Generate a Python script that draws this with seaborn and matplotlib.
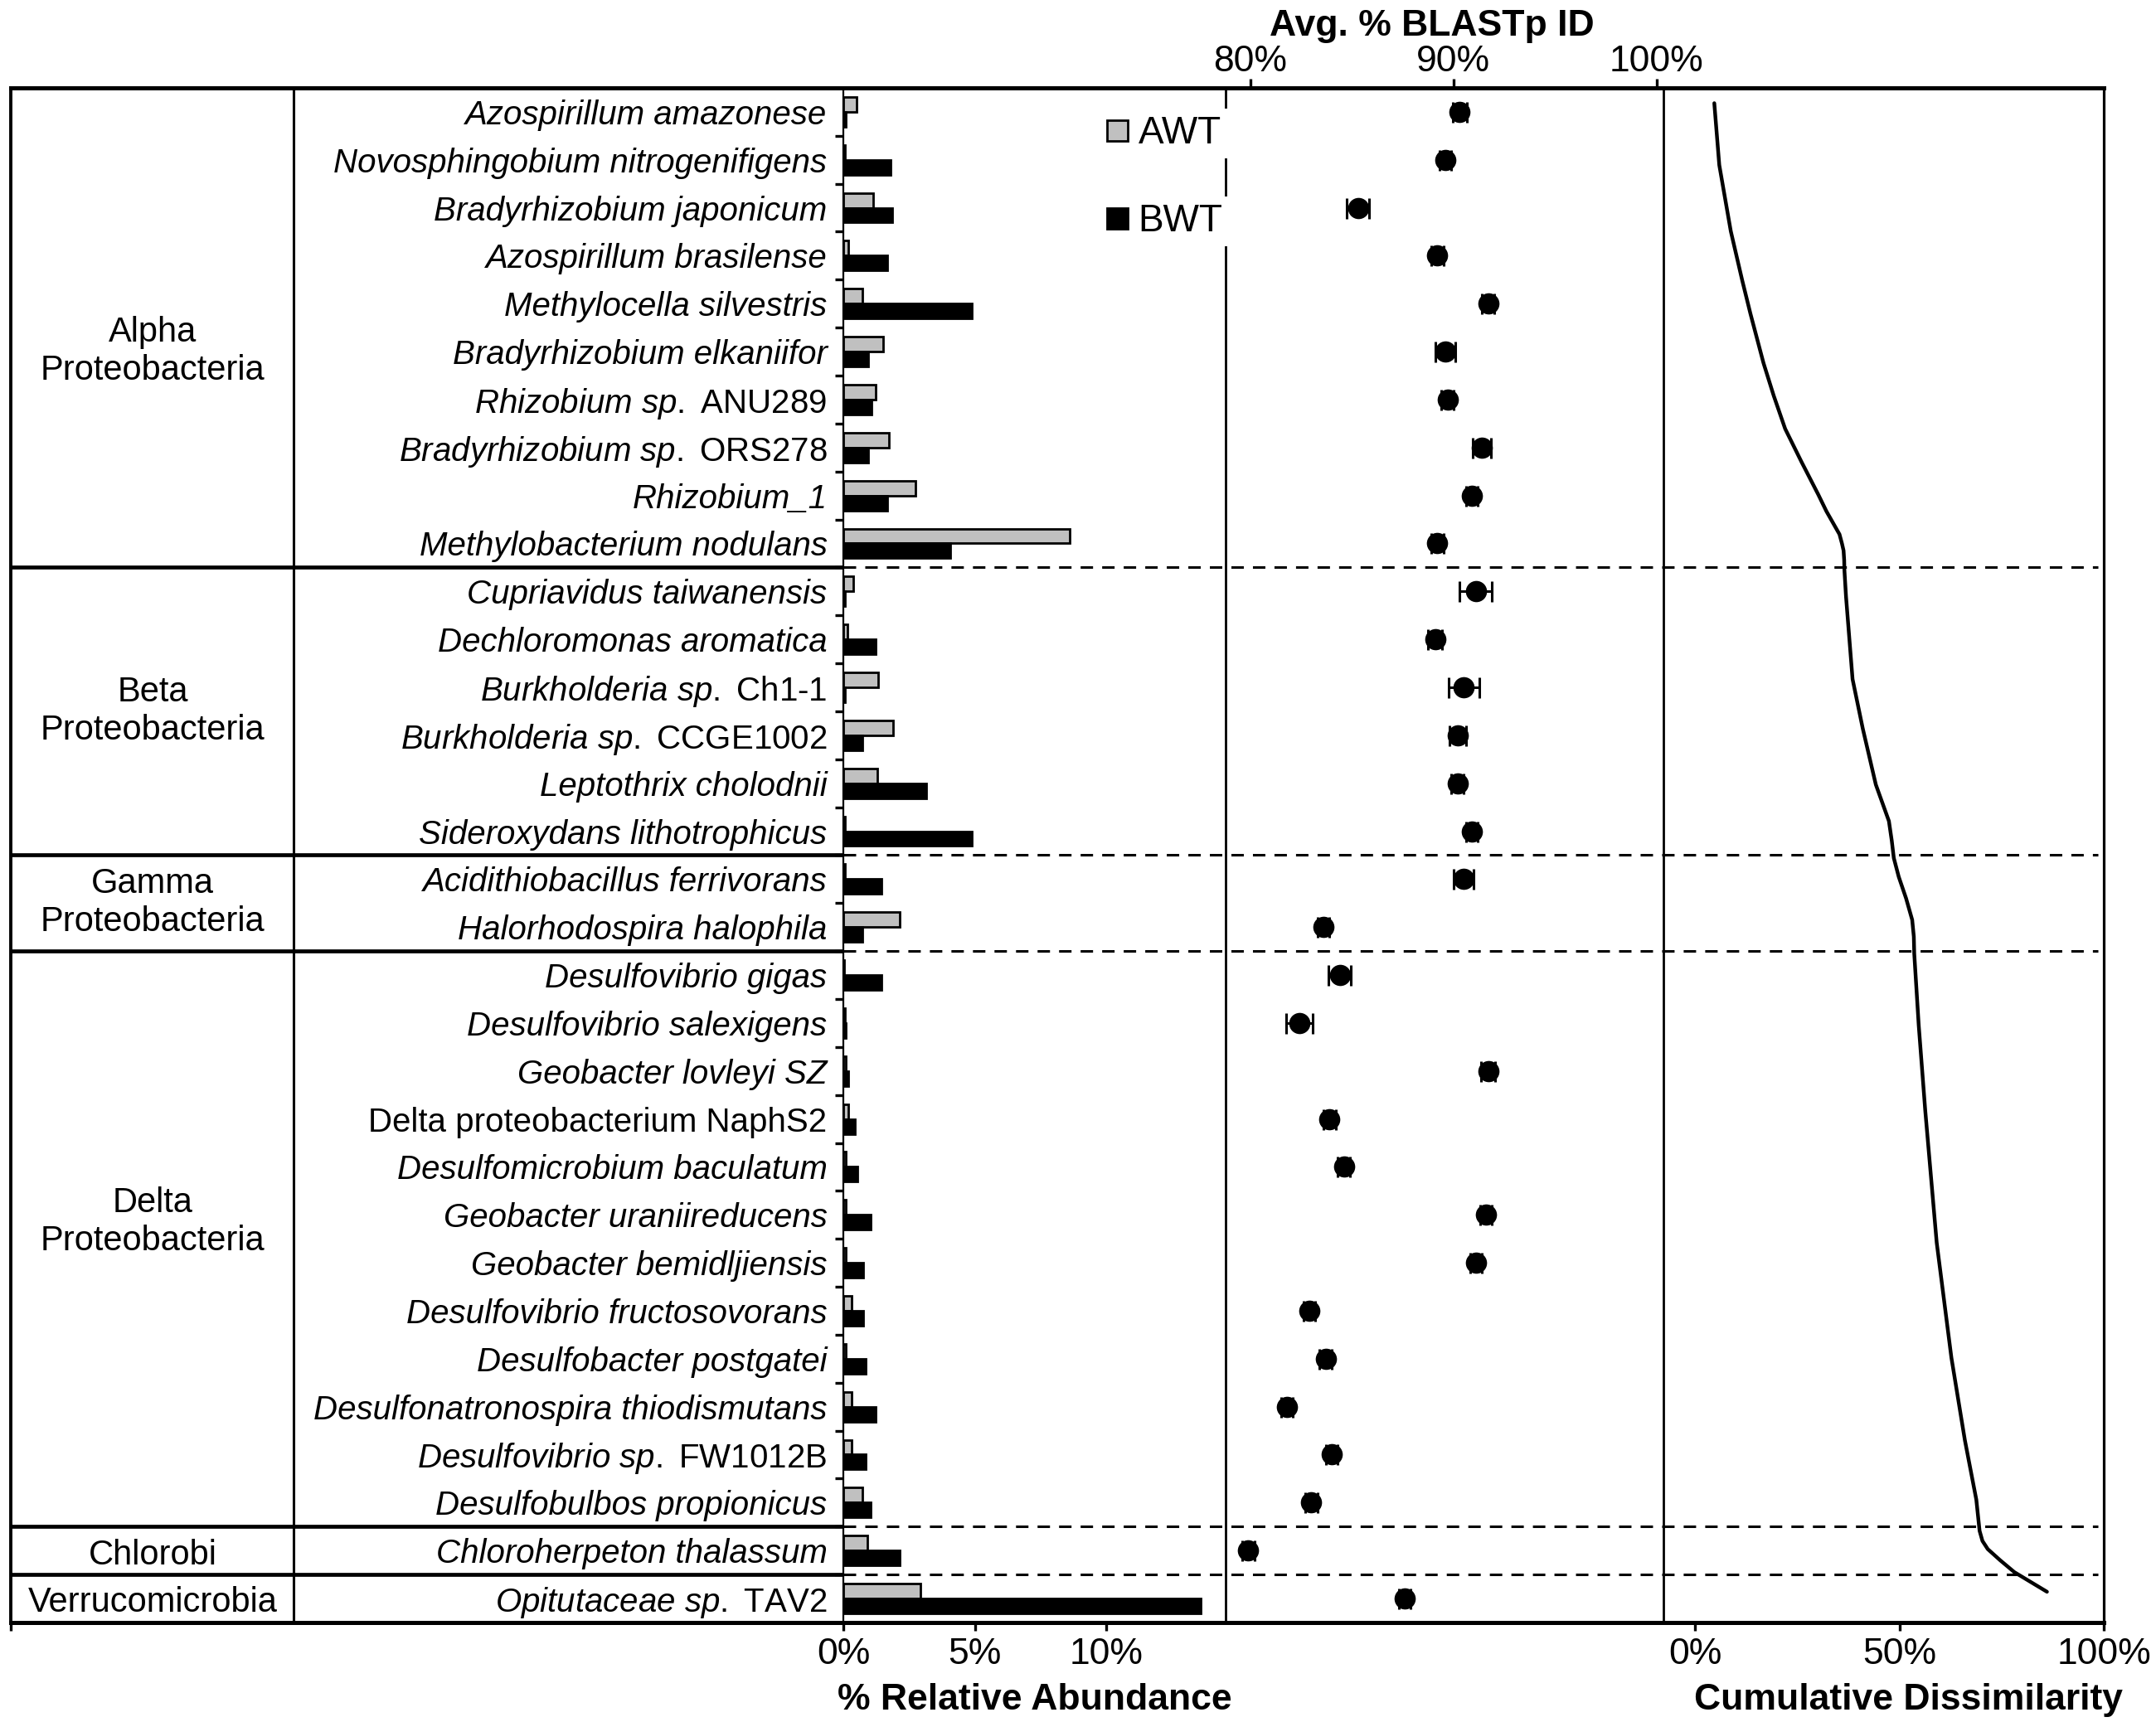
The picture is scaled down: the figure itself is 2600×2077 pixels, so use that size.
import numpy as np
import pandas as pd
import matplotlib.pyplot as plt
import seaborn as sns
from matplotlib.lines import Line2D
from matplotlib.transforms import blended_transform_factory

# species rows, top to bottom: italic taxon part and (roman) strain part
taxon = [
    'Azospirillum amazonese', 'Novosphingobium nitrogenifigens', 'Bradyrhizobium japonicum',
    'Azospirillum brasilense', 'Methylocella silvestris', 'Bradyrhizobium elkaniifor',
    'Rhizobium sp.', 'Bradyrhizobium sp.', 'Rhizobium_1', 'Methylobacterium nodulans',
    'Cupriavidus taiwanensis', 'Dechloromonas aromatica', 'Burkholderia sp.', 'Burkholderia sp.',
    'Leptothrix cholodnii', 'Sideroxydans lithotrophicus',
    'Acidithiobacillus ferrivorans', 'Halorhodospira halophila',
    'Desulfovibrio gigas', 'Desulfovibrio salexigens', 'Geobacter lovleyi SZ', '',
    'Desulfomicrobium baculatum', 'Geobacter uraniireducens', 'Geobacter bemidljiensis',
    'Desulfovibrio fructosovorans', 'Desulfobacter postgatei', 'Desulfonatronospira thiodismutans',
    'Desulfovibrio sp.', 'Desulfobulbos propionicus',
    'Chloroherpeton thalassum',
    'Opitutaceae sp.',
]
strain = [
    '', '', '', '', '', '', 'ANU289', 'ORS278', '', '',
    '', '', 'Ch1-1', 'CCGE1002', '', '',
    '', '',
    '', '', '', 'Delta proteobacterium NaphS2', '', '', '', '', '', '', 'FW1012B', '',
    '',
    'TAV2',
]

# % relative abundance
awt = [0.5, 0.05, 1.12, 0.2, 0.73, 1.52, 1.23, 1.74, 2.75, 8.6,
       0.37, 0.15, 1.33, 1.9, 1.3, 0.06,
       0.06, 2.14,
       0.03, 0.06, 0.08, 0.2, 0.1, 0.1, 0.08, 0.3, 0.08, 0.3, 0.3, 0.72,
       0.91,
       2.94]
bwt = [0.1, 1.79, 1.85, 1.67, 4.9, 0.95, 1.06, 0.95, 1.67, 4.07,
       0.06, 1.23, 0.06, 0.72, 3.17, 4.9,
       1.45, 0.72,
       1.45, 0.08, 0.2, 0.43, 0.53, 1.04, 0.76, 0.76, 0.85, 1.23, 0.85, 1.04,
       2.14,
       13.6]

# average % BLASTp identity and its error
blast_id = [90.3, 89.6, 85.3, 89.2, 91.7, 89.6, 89.7, 91.4, 90.9, 89.2,
            91.1, 89.1, 90.5, 90.2, 90.2, 90.9,
            90.5, 83.6,
            84.4, 82.4, 91.7, 83.9, 84.6, 91.6, 91.1, 82.9, 83.7, 81.8, 84.0, 83.0,
            79.9,
            87.6]
blast_err = [0.35, 0.3, 0.55, 0.3, 0.3, 0.5, 0.3, 0.45, 0.3, 0.3,
             0.8, 0.35, 0.75, 0.4, 0.3, 0.3,
             0.5, 0.3,
             0.55, 0.65, 0.35, 0.3, 0.3, 0.3, 0.3, 0.3, 0.3, 0.3, 0.3, 0.3,
             0.3,
             0.3]

groups = ['Alpha\nProteobacteria', 'Beta\nProteobacteria', 'Gamma\nProteobacteria',
          'Delta\nProteobacteria', 'Chlorobi', 'Verrucomicrobia']
group_sizes = [10, 6, 2, 12, 1, 1]
group_nudge = [0.5, 0.0, 0.0, -0.35, 0.1, 0.08]

# cumulative dissimilarity curve (row position, %)
dissim_row = [-0.18, 1.11, 2.49, 3.52, 4.21, 5.24, 5.92, 6.61, 7.30, 7.98, 8.33, 8.81, 9.0,
              9.15, 9.35, 9.55, 10.11, 11.83, 12.86, 14.03, 14.79, 15.2, 15.56, 15.95, 16.4,
              16.85, 17.2, 17.55, 19.05, 20.83, 23.58, 25.98, 27.7, 28.94, 29.59, 29.8,
              29.97, 30.2, 30.45, 30.86]
dissim_pct = [4.65, 5.87, 8.69, 11.5, 13.5, 16.7, 19.2, 22.0, 26.0, 30.1, 32.1, 35.3, 35.9,
              36.3, 36.45, 36.5, 36.9, 38.5, 41.0, 44.2, 47.4, 48.1, 48.6, 49.8, 51.6,
              53.1, 53.5, 53.6, 54.7, 56.3, 59.1, 62.7, 66.0, 68.8, 69.6, 70.3,
              71.6, 74.6, 78.1, 86.1]

sns.set_theme(style='white')
plt.rcParams['font.family'] = ['Liberation Sans', 'DejaVu Sans']
plt.rcParams['mathtext.fontset'] = 'custom'
plt.rcParams['mathtext.rm'] = 'Liberation Sans'
plt.rcParams['mathtext.it'] = 'Liberation Sans:italic'
plt.rcParams['mathtext.bf'] = 'Liberation Sans:bold'
for key in ['text.color', 'axes.labelcolor', 'xtick.color', 'ytick.color', 'axes.edgecolor']:
    plt.rcParams[key] = 'black'

names = [(t + ' ' + s).strip() for t, s in zip(taxon, strain)]
n = len(names)
rows = np.arange(n)

df = pd.DataFrame({
    'species': names * 2,
    'sample': ['AWT'] * n + ['BWT'] * n,
    'abundance': awt + bwt,
})

fig = plt.figure(figsize=(13, 10.385), dpi=200)
bottom, height = 0.0578, 0.8912
ax_tab = fig.add_axes([0.00485, bottom, 0.3863, height])
ax_bar = fig.add_axes([0.39115, bottom, 0.17731, height])
ax_id = fig.add_axes([0.56846, bottom, 0.20308, height])
ax_dis = fig.add_axes([0.77154, bottom, 0.20423, height])

# abundance bars
sns.barplot(data=df, x='abundance', y='species', hue='sample', order=names,
            hue_order=['AWT', 'BWT'], palette={'AWT': '#c0c0c0', 'BWT': 'black'},
            orient='h', width=0.62, saturation=1, edgecolor='black', linewidth=1.0,
            errorbar=None, legend=False, ax=ax_bar)

# BLASTp identity
ax_id.errorbar(blast_id, rows, xerr=blast_err, fmt='none', ecolor='black',
               elinewidth=1.1, capsize=4.5, capthick=1.1, zorder=2)
sns.scatterplot(x=blast_id, y=rows, color='black', s=85, linewidth=0, ax=ax_id, zorder=3)

# cumulative dissimilarity
sns.lineplot(x=dissim_pct, y=dissim_row, sort=False, estimator=None, color='black',
             linewidth=1.6, ax=ax_dis)

for ax in (ax_tab, ax_bar, ax_id, ax_dis):
    ax.set_ylim(n - 0.5, -0.5)
    ax.set_facecolor('none')
    ax.spines['top'].set_linewidth(1.8)
    ax.spines['bottom'].set_linewidth(1.8)

# table on the left
ax_tab.set_xlim(0, 1)
ax_tab.set_yticks([])
ax_tab.set_xticks([0])
ax_tab.set_xticklabels([''])
ax_tab.tick_params(axis='x', bottom=True, length=3.6, width=1.2, direction='out')
ax_tab.spines['right'].set_visible(False)
ax_tab.spines['left'].set_linewidth(1.4)
ax_tab.axvline(0.34, color='black', lw=1.1)
edges = np.cumsum(group_sizes) - 0.5
starts = np.cumsum(group_sizes) - np.array(group_sizes)
for e in edges[:-1]:
    ax_tab.axhline(e, color='black', lw=1.7)
for g, s0, size, nudge in zip(groups, starts, group_sizes, group_nudge):
    ax_tab.text(0.1706, s0 + (size - 1) / 2 + nudge, g, ha='center', va='center',
                fontsize=15, linespacing=1.2)

trans = blended_transform_factory(fig.transFigure, ax_bar.transData)
for e in edges[:-1]:
    fig.add_artist(Line2D([0.3912, 0.973], [e, e], transform=trans, color='black',
                          lw=1.1, ls=(0, (4.9, 3.6))))

# species labels
labels = []
for t, s in zip(taxon, strain):
    if not s:
        labels.append(t)
    elif not t:
        labels.append(s)
    else:
        labels.append(r'$\mathit{' + t.replace(' ', r'\ ') + '}$ ' + s)
ax_bar.set_yticks(rows)
ax_bar.set_yticklabels(labels, fontsize=14.5)
for lab, s in zip(ax_bar.get_yticklabels(), strain):
    lab.set_fontstyle('normal' if s else 'italic')
ax_bar.set_yticks(np.arange(-0.5, n, 1), minor=True)
ax_bar.tick_params(axis='y', which='major', length=0, pad=7)
ax_bar.tick_params(axis='y', which='minor', left=True, length=3.6, width=1.2, direction='out')
ax_bar.set_ylabel('')
ax_bar.set_xlim(0, 14.54)
ax_bar.set_xticks([0, 5, 10])
ax_bar.set_xticklabels(['0%', '5%', '10%'])
ax_bar.tick_params(axis='x', bottom=True, length=3.6, width=1.2, direction='out',
                   labelsize=16, pad=3)
ax_bar.spines['left'].set_linewidth(0.8)
ax_bar.spines['right'].set_linewidth(1.0)
ax_bar.set_xlabel('% Relative Abundance', fontsize=16, fontweight='bold')
ax_bar.xaxis.set_label_coords(0.5, -0.0395)

ax_id.set_xlim(78.78, 100.33)
ax_id.set_yticks([])
ax_id.xaxis.tick_top()
ax_id.set_xticks([80, 90, 100])
ax_id.set_xticklabels(['80%', '90%', '100%'])
ax_id.tick_params(axis='x', top=True, bottom=False, labeltop=True, labelbottom=False,
                  length=4, width=1.2, direction='out', labelsize=16, pad=0)
ax_id.spines['left'].set_visible(False)
ax_id.spines['right'].set_linewidth(1.0)
ax_id.xaxis.set_label_position('top')
ax_id.set_xlabel('Avg. % BLASTp ID', fontsize=16, fontweight='bold')
ax_id.xaxis.set_label_coords(0.472, 1.034)

ax_dis.set_xlim(-7.8, 100)
ax_dis.set_yticks([])
ax_dis.set_xticks([0, 50, 100])
ax_dis.set_xticklabels(['0%', '50%', '100%'])
ax_dis.tick_params(axis='x', bottom=True, length=3.6, width=1.2, direction='out',
                   labelsize=16, pad=3)
ax_dis.spines['left'].set_visible(False)
ax_dis.spines['right'].set_linewidth(1.15)
ax_dis.set_xlabel('Cumulative Dissimilarity', fontsize=16, fontweight='bold')
ax_dis.xaxis.set_label_coords(0.556, -0.0395)

handles = [
    Line2D([], [], ls='', marker='s', ms=9, mfc='#c0c0c0', mec='black', mew=1.0),
    Line2D([], [], ls='', marker='s', ms=9, mfc='black', mec='black'),
]
leg = fig.legend(handles, ['AWT', 'BWT'], loc='upper left', bbox_to_anchor=(0.5085, 0.9374),
                 fontsize=16.5, frameon=False, borderpad=0.2, borderaxespad=0,
                 handlelength=0.7, handletextpad=0.2, labelspacing=1.35)
for txt in leg.get_texts():
    txt.set_bbox(dict(facecolor='white', edgecolor='none', pad=3))

fig.savefig('out.png', dpi=200, facecolor='white')
